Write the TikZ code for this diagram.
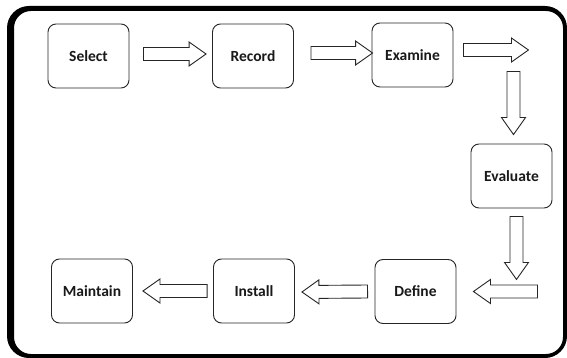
\documentclass[tikz,border=0pt]{standalone}
\usepackage{fontspec}
\setmainfont{Carlito}
\usetikzlibrary{calc}

\tikzset{
  stage/.style={draw=black!85, line width=0.9pt, rounded corners=8pt,
    minimum width=81pt, minimum height=64pt, inner sep=0pt,
    font=\bfseries\fontsize{15.5}{17}\selectfont, text=black!90},
  arrowline/.style={draw=black!85, line width=0.9pt, fill=white, line join=miter}
}

% outlined block arrow from tail #1 to tip #2
\newcommand\blkarrow[2]{%
  \coordinate (bt) at (#1);
  \coordinate (bh) at (#2);
  \coordinate (bb) at ($(bh)!17pt!(bt)$);
  \draw[arrowline] ($(bt)!6.5pt!90:(bh)$) -- ($(bb)!6.5pt!-90:(bt)$)
    -- ($(bb)!12pt!-90:(bt)$) -- (bh) -- ($(bb)!12pt!90:(bt)$)
    -- ($(bb)!6.5pt!90:(bt)$) -- ($(bt)!6.5pt!-90:(bh)$) -- cycle;
}

\begin{document}
\begin{tikzpicture}[x=1pt, y=-1pt]
  \useasboundingbox (0,0) rectangle (567,358);
  \fill[white] (0,0) rectangle (567,358);

  % heavy outer frame
  \fill[black, even odd rule]
    [rounded corners=22pt] (7,6) rectangle (567,358)
    [rounded corners=17pt] (14,11) rectangle (563,354);

  % stages
  \node[stage] (sel) at (88.5,56) {Select};
  \node[stage] (rec) at (253,56) {Record};
  \node[stage] (exa) at (412.5,55) {Examine};
  \node[stage] (eva) at (511.5,176) {Evaluate};
  \node[stage] (def) at (415.5,291.5) {Define};
  \node[stage] (ins) at (254,291) {Install};
  \node[stage] (mai) at (92,291) {Maintain};

  % arrow end points
  \coordinate (a1t) at ($(sel.east)+(14,-2)$);
  \coordinate (a1h) at ($(rec.west)+(-6,-2)$);
  \coordinate (a2t) at ($(rec.east)+(17,-3)$);
  \coordinate (a2h) at ($(exa.west)+(1,-2)$);
  \coordinate (a3t) at ($(exa.east)+(10,-5)$);
  \coordinate (a3h) at ($(exa.east)+(75,-5)$);
  \coordinate (a4t) at ($(eva.north)+(2,-72)$);
  \coordinate (a4h) at ($(eva.north)+(2,-9)$);
  \coordinate (a5t) at ($(eva.south)+(5,8)$);
  \coordinate (a5h) at ($(eva.south)+(5,71)$);
  \coordinate (a6t) at ($(def.east)+(81,0)$);
  \coordinate (a6h) at ($(def.east)+(17,0)$);
  \coordinate (a7t) at ($(def.west)+(-7,0)$);
  \coordinate (a7h) at ($(ins.east)+(7,1)$);
  \coordinate (a8t) at ($(ins.west)+(-6,0)$);
  \coordinate (a8h) at ($(mai.east)+(10,0)$);

  \blkarrow{a1t}{a1h}
  \blkarrow{a2t}{a2h}
  \blkarrow{a3t}{a3h}
  \blkarrow{a4t}{a4h}
  \blkarrow{a5t}{a5h}
  \blkarrow{a6t}{a6h}
  \blkarrow{a7t}{a7h}
  \blkarrow{a8t}{a8h}
\end{tikzpicture}
\end{document}
